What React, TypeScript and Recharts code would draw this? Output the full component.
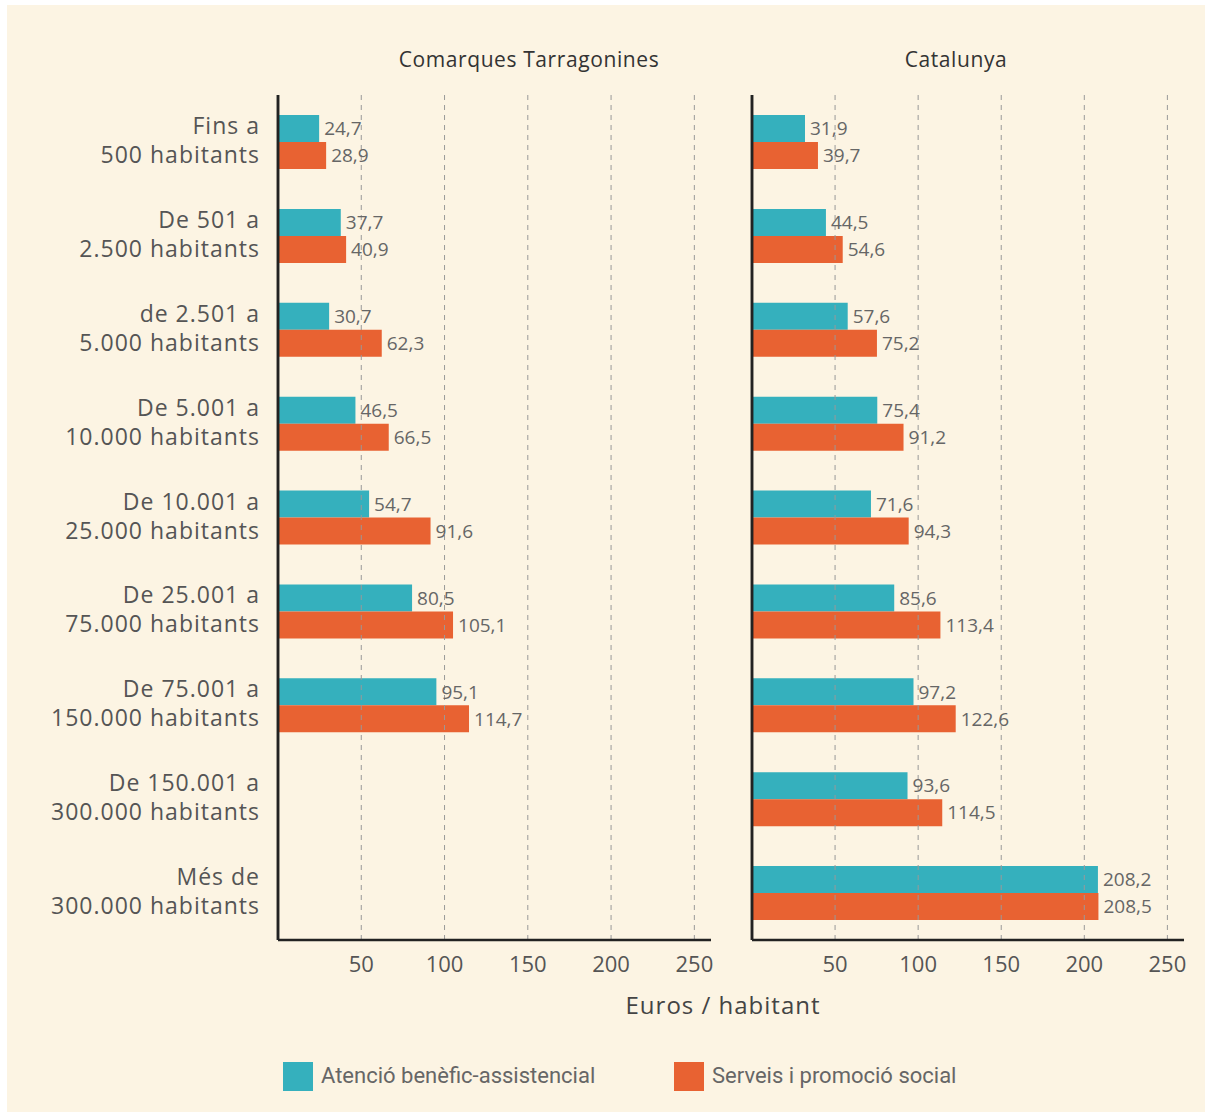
import { BarChart, Bar, XAxis, YAxis, LabelList, ReferenceLine } from 'recharts';

const categoryLine1 = ['Fins a', 'De 501 a', 'de 2.501 a', 'De 5.001 a', 'De 10.001 a', 'De 25.001 a', 'De 75.001 a', 'De 150.001 a', 'Més de'];
const categoryLine2 = ['500 habitants', '2.500 habitants', '5.000 habitants', '10.000 habitants', '25.000 habitants', '75.000 habitants', '150.000 habitants', '300.000 habitants', '300.000 habitants'];

const tarragonaAtencio = [24.7, 37.7, 30.7, 46.5, 54.7, 80.5, 95.1, null, null];
const tarragonaServeis = [28.9, 40.9, 62.3, 66.5, 91.6, 105.1, 114.7, null, null];
const catalunyaAtencio = [31.9, 44.5, 57.6, 75.4, 71.6, 85.6, 97.2, 93.6, 208.2];
const catalunyaServeis = [39.7, 54.6, 75.2, 91.2, 94.3, 113.4, 122.6, 114.5, 208.5];

const xTicks = [50, 100, 150, 200, 250];

const TEAL = '#35b0bd';
const ORANGE = '#e86232';
const BG = '#fcf4e3';
const FONT = '"Open Sans", "Noto Sans", sans-serif';
const NARROW = '"Liberation Sans Narrow", "Roboto", sans-serif';

const fmt = (v: any) => (v == null ? '' : String(v).replace('.', ','));

function buildRows(a: (number | null)[], s: (number | null)[]) {
  return categoryLine1.map((_, i) => ({ cat: String(i), atencio: a[i], serveis: s[i] }));
}

function CategoryTick(props: any) {
  const { x, y, payload } = props;
  const i = Number(payload.value);
  return (
    <text x={x} y={y} textAnchor="end" fill="#555" fontSize={23} letterSpacing={1} fontFamily={FONT}>
      <tspan x={x} dy={-8}>{categoryLine1[i]}</tspan>
      <tspan x={x} dy={29}>{categoryLine2[i]}</tspan>
    </text>
  );
}

function Panel({ rows, showCategories }: { rows: any[]; showCategories: boolean }) {
  return (
    <BarChart
      width={showCategories ? 730 : 470}
      height={1000}
      data={rows}
      layout="vertical"
      barSize={27}
      barGap={0}
      margin={{ top: 95, right: showCategories ? 19 : 26, left: showCategories ? 0 : 11, bottom: 30 }}
    >
      {xTicks.map((t) => (
        <ReferenceLine key={t} x={t} stroke="#999" strokeDasharray="5 5" />
      ))}
      <XAxis
        type="number"
        domain={[0, 260]}
        ticks={xTicks}
        height={30}
        tickLine={false}
        tickMargin={10}
        axisLine={{ stroke: '#222', strokeWidth: 2.5 }}
        tick={{ fill: '#555', fontSize: 22, fontFamily: FONT }}
      />
      <YAxis
        type="category"
        dataKey="cat"
        width={showCategories ? 278 : 1}
        tickLine={false}
        tickMargin={12}
        axisLine={{ stroke: '#222', strokeWidth: 2.5 }}
        tick={showCategories ? <CategoryTick /> : false}
      />
      <Bar dataKey="atencio" fill={TEAL} isAnimationActive={false}>
        <LabelList dataKey="atencio" position="right" offset={5} formatter={fmt} fill="#666" fontSize={19} fontFamily={FONT} />
      </Bar>
      <Bar dataKey="serveis" fill={ORANGE} isAnimationActive={false}>
        <LabelList dataKey="serveis" position="right" offset={5} formatter={fmt} fill="#666" fontSize={19} fontFamily={FONT} />
      </Bar>
      <ReferenceLine x={0} stroke="#222" strokeWidth={2.5} />
    </BarChart>
  );
}

export default function App() {
  const left = buildRows(tarragonaAtencio, tarragonaServeis);
  const right = buildRows(catalunyaAtencio, catalunyaServeis);
  return (
    <div style={{ position: 'absolute', left: 0, top: 0, width: 1212, height: 1118, background: '#fff', fontFamily: FONT }}>
      <div style={{ position: 'absolute', left: 7, top: 5, width: 1198, height: 1107, background: BG }} />
      <div style={{ position: 'absolute', left: 0, top: 0 }}>
        <Panel rows={left} showCategories />
      </div>
      <div style={{ position: 'absolute', left: 740, top: 0 }}>
        <Panel rows={right} showCategories={false} />
      </div>
      <div style={{ position: 'absolute', left: 329, top: 45, width: 400, textAlign: 'center', fontSize: 21, fontWeight: 500, letterSpacing: 0.6, color: '#333' }}>
        Comarques Tarragonines
      </div>
      <div style={{ position: 'absolute', left: 756, top: 45, width: 400, textAlign: 'center', fontSize: 21, fontWeight: 500, letterSpacing: 0.6, color: '#333' }}>
        Catalunya
      </div>
      <div style={{ position: 'absolute', left: 523, top: 988, width: 400, textAlign: 'center', fontSize: 24, fontWeight: 500, letterSpacing: 1, color: '#444' }}>
        Euros / habitant
      </div>
      <div style={{ position: 'absolute', left: 283, top: 1062, width: 30, height: 29, background: TEAL }} />
      <div style={{ position: 'absolute', left: 321, top: 1063, fontSize: 22, color: '#666', fontFamily: NARROW }}>
        Atenció benèfic-assistencial
      </div>
      <div style={{ position: 'absolute', left: 674, top: 1062, width: 30, height: 29, background: ORANGE }} />
      <div style={{ position: 'absolute', left: 712, top: 1063, fontSize: 22, color: '#666', fontFamily: NARROW }}>
        Serveis i promoció social
      </div>
    </div>
  );
}
